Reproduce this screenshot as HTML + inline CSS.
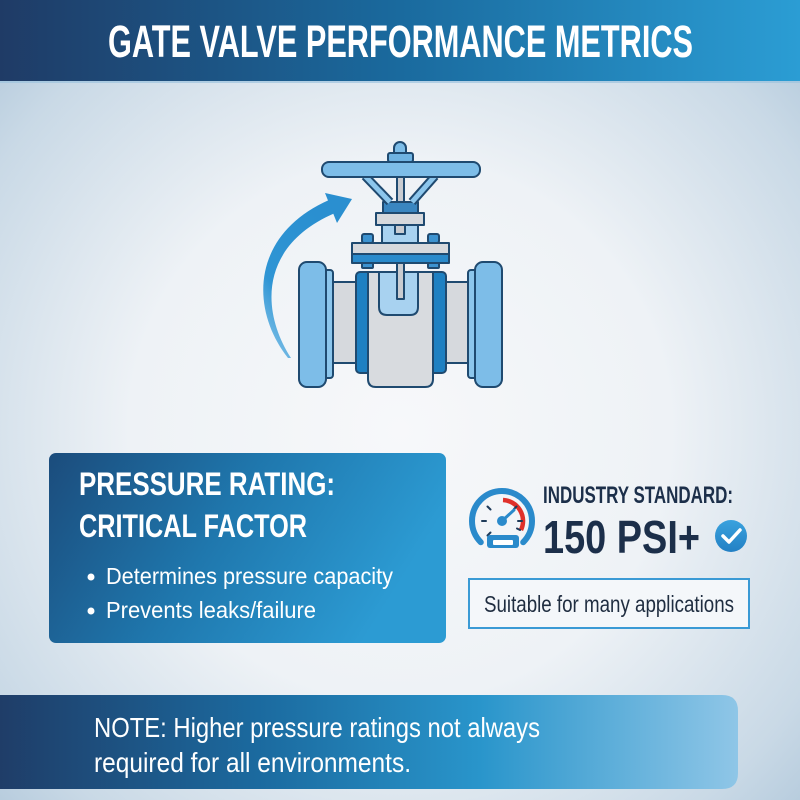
<!DOCTYPE html>
<html>
<head>
<meta charset="utf-8">
<style>
  html,body{margin:0;padding:0;width:800px;height:800px;overflow:hidden;background:#e8eef4;}
  svg{display:block;}
  text{font-family:"Liberation Sans",sans-serif;}
</style>
</head>
<body>
<svg width="800" height="800" viewBox="0 0 800 800" xmlns="http://www.w3.org/2000/svg">
  <defs>
    <radialGradient id="bg" cx="400" cy="430" r="600" gradientUnits="userSpaceOnUse">
      <stop offset="0" stop-color="#f7f8fa"/>
      <stop offset="0.45" stop-color="#eef2f6"/>
      <stop offset="0.8" stop-color="#c9d9e6"/>
      <stop offset="1" stop-color="#a9c2d7"/>
    </radialGradient>
    <linearGradient id="hdr" x1="0" y1="0" x2="1" y2="0">
      <stop offset="0" stop-color="#1f3b66"/>
      <stop offset="0.5" stop-color="#1a6a9e"/>
      <stop offset="1" stop-color="#2b9dd4"/>
    </linearGradient>
    <linearGradient id="box" x1="0" y1="0" x2="1" y2="0.3">
      <stop offset="0" stop-color="#1b4c7c"/>
      <stop offset="0.5" stop-color="#1f77ad"/>
      <stop offset="1" stop-color="#2c9bd3"/>
    </linearGradient>
    <linearGradient id="note" x1="0" y1="0" x2="1" y2="0">
      <stop offset="0" stop-color="#1f3d68"/>
      <stop offset="0.35" stop-color="#1b6a9f"/>
      <stop offset="0.65" stop-color="#2995cb"/>
      <stop offset="1" stop-color="#8fc6e7"/>
    </linearGradient>
    <linearGradient id="arrow" x1="0" y1="1" x2="0.6" y2="0">
      <stop offset="0" stop-color="#4aa8e0" stop-opacity="0.6"/>
      <stop offset="0.4" stop-color="#2f95d4"/>
      <stop offset="1" stop-color="#2a8fd0"/>
    </linearGradient>
    <linearGradient id="chk" x1="0" y1="0" x2="0" y2="1">
      <stop offset="0" stop-color="#3aa2de"/>
      <stop offset="1" stop-color="#2380c4"/>
    </linearGradient>
  </defs>

  <!-- background -->
  <rect x="0" y="0" width="800" height="800" fill="url(#bg)"/>

  <!-- header -->
  <rect x="0" y="0" width="800" height="81" fill="url(#hdr)"/>
  <rect x="0" y="81" width="800" height="2" fill="#9cc3de" opacity="0.7"/>
  <text x="108" y="57" font-size="45" font-weight="bold" fill="#ffffff" textLength="585" lengthAdjust="spacingAndGlyphs">GATE VALVE PERFORMANCE METRICS</text>

  <!-- valve illustration -->
  <g stroke="#1f4a70" stroke-width="2" stroke-linejoin="round">
    <!-- arrow -->
    <path d="M288,358 C250,310 250,235 329,200 L335,213 C260,245 260,310 291,358 Z" fill="url(#arrow)" stroke="none"/>
    <polygon points="352,199 325,193 337,223" fill="#2a8fd0" stroke="none"/>

    <!-- pipe -->
    <rect x="330" y="282" width="142" height="81" fill="#d6d9dd"/>
    <!-- flanges -->
    <rect x="322" y="270" width="11" height="108" rx="3" fill="#8cc6ec"/>
    <rect x="299" y="262" width="27" height="125" rx="8" fill="#7dbde8"/>
    <rect x="468" y="270" width="11" height="108" rx="3" fill="#8cc6ec"/>
    <rect x="475" y="262" width="27" height="125" rx="8" fill="#7dbde8"/>

    <!-- body -->
    <rect x="356" y="272" width="90" height="101" rx="4" fill="#1e80c2"/>
    <path d="M368,272 H433 V379 Q433,387 425,387 H376 Q368,387 368,379 Z" fill="#d8dbdf"/>
    <path d="M379,272 V307 Q379,315 387,315 H410 Q418,315 418,307 V272 Z" fill="#a8d2f0"/>
    <rect x="397" y="263" width="7" height="36" fill="#c9ccd1"/>

    <!-- bonnet -->
    <rect x="362" y="234" width="11" height="9" rx="2" fill="#3d93d0"/>
    <rect x="428" y="234" width="11" height="9" rx="2" fill="#3d93d0"/>
    <rect x="362" y="263" width="11" height="5" rx="1" fill="#3d93d0"/>
    <rect x="428" y="263" width="11" height="5" rx="1" fill="#3d93d0"/>
    <rect x="352" y="243" width="97" height="11" fill="#d6d9dd"/>
    <rect x="352" y="254" width="97" height="9" fill="#2a8acb"/>

    <!-- stem guard -->
    <rect x="382" y="225" width="36" height="18" fill="#a8d2f0"/>
    <rect x="395" y="218" width="10" height="16" fill="#c9ccd1"/>
    <rect x="376" y="213" width="48" height="12" fill="#d6d9dd"/>
    <rect x="383" y="202" width="35" height="11" fill="#3a86c0"/>

    <!-- stem -->
    <rect x="397" y="176" width="7" height="26" fill="#c9ccd1"/>
  </g>
  <g stroke-linecap="butt">
    <line x1="365" y1="176" x2="390" y2="202" stroke="#1f4a70" stroke-width="9"/>
    <line x1="365" y1="176" x2="390" y2="202" stroke="#8cc6ec" stroke-width="5"/>
    <line x1="435" y1="176" x2="412" y2="202" stroke="#1f4a70" stroke-width="9"/>
    <line x1="435" y1="176" x2="412" y2="202" stroke="#8cc6ec" stroke-width="5"/>
  </g>
  <g stroke="#1f4a70" stroke-width="2" stroke-linejoin="round">
    <rect x="322" y="162" width="158" height="15" rx="7" fill="#7dbde8"/>
    <rect x="388" y="153" width="25" height="9" rx="2" fill="#6fb3e2"/>
    <path d="M394,153 V148 A6,6 0 0 1 406,148 V153 Z" fill="#7dbde8"/>
  </g>

  <!-- left info box -->
  <rect x="49" y="453" width="397" height="190" rx="7" fill="url(#box)"/>
  <text x="79" y="495" font-size="32" font-weight="bold" fill="#ffffff" textLength="256" lengthAdjust="spacingAndGlyphs">PRESSURE RATING:</text>
  <text x="79" y="537" font-size="32" font-weight="bold" fill="#ffffff" textLength="228" lengthAdjust="spacingAndGlyphs">CRITICAL FACTOR</text>
  <circle cx="91" cy="577" r="3.5" fill="#ffffff"/>
  <text x="106" y="584" font-size="23" fill="#ffffff" textLength="287" lengthAdjust="spacingAndGlyphs">Determines pressure capacity</text>
  <circle cx="91" cy="611" r="3.5" fill="#ffffff"/>
  <text x="106" y="618" font-size="23" fill="#ffffff" textLength="210" lengthAdjust="spacingAndGlyphs">Prevents leaks/failure</text>

  <!-- gauge icon -->
  <g fill="none" stroke-linecap="round">
    <path d="M480.8,542.2 A30,30 0 1 1 523.2,542.2" stroke="#2a8acb" stroke-width="6"/>
    <path d="M503,500 A21,21 0 0 1 521,530" stroke="#e0302a" stroke-width="4.5" stroke-linecap="butt"/>
    <g stroke="#1f3b5a" stroke-width="2">
      <line x1="482" y1="521" x2="486" y2="521"/>
      <line x1="487.5" y1="506.5" x2="490.5" y2="509.5"/>
      <line x1="487.5" y1="535.5" x2="490.5" y2="532.5"/>
      <line x1="516.5" y1="506.5" x2="514" y2="509"/>
      <line x1="522" y1="521" x2="518" y2="521"/>
      <line x1="520" y1="530" x2="517" y2="528.5"/>
    </g>
    <line x1="502" y1="521" x2="514" y2="510" stroke="#2a8acb" stroke-width="3"/>
  </g>
  <circle cx="502" cy="521" r="5" fill="#2a8acb"/>
  <rect x="487" y="535" width="32" height="13" rx="3" fill="#2a8acb"/>
  <rect x="493" y="540" width="20" height="5" rx="1" fill="#ffffff"/>

  <!-- industry standard -->
  <text x="543" y="503" font-size="24" font-weight="bold" fill="#1c2f4a" textLength="190" lengthAdjust="spacingAndGlyphs">INDUSTRY STANDARD:</text>
  <text x="543" y="553" font-size="46" font-weight="bold" fill="#1c2f4a" textLength="157" lengthAdjust="spacingAndGlyphs">150 PSI+</text>
  <circle cx="731" cy="536" r="16" fill="url(#chk)"/>
  <path d="M723,536 L729,542 L740,530" fill="none" stroke="#ffffff" stroke-width="3.5" stroke-linecap="round" stroke-linejoin="round"/>

  <rect x="469" y="579" width="280" height="49" fill="#f4f7fa" stroke="#3a9ad5" stroke-width="2"/>
  <text x="484" y="612" font-size="23" fill="#1f2d40" textLength="250" lengthAdjust="spacingAndGlyphs">Suitable for many applications</text>

  <!-- note bar -->
  <path d="M0,695 H722 Q738,695 738,711 V773 Q738,789 722,789 H0 Z" fill="url(#note)"/>
  <text x="94" y="737" font-size="28" fill="#ffffff" textLength="446" lengthAdjust="spacingAndGlyphs">NOTE: Higher pressure ratings not always</text>
  <text x="94" y="772" font-size="28" fill="#ffffff" textLength="317" lengthAdjust="spacingAndGlyphs">required for all environments.</text>
</svg>
</body>
</html>
